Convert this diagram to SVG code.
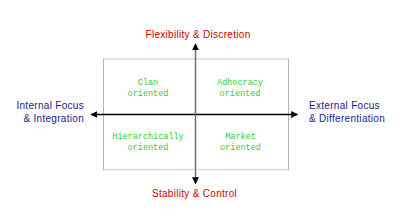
<svg xmlns="http://www.w3.org/2000/svg" width="400" height="222" viewBox="0 0 400 222">
<style>
.ax{font-family:"Liberation Sans",Arial,sans-serif;font-size:10px;letter-spacing:0.3px}
.red{fill:#cc0000}
.blue{fill:#1a1a8c}
.q{font-family:"Liberation Mono","Courier New",monospace;font-size:8.5px;fill:#33cc33;text-anchor:middle}
</style>
<defs>
<marker id="ah" viewBox="0 0 10 10" refX="9" refY="5" markerWidth="7" markerHeight="7" markerUnits="userSpaceOnUse" orient="auto">
<path d="M0,0 L10,5 L0,10 z" fill="#000"/>
</marker>
</defs>
<rect width="400" height="222" fill="#fff"/>
<g id="frame">
<rect x="103.5" y="59" width="185" height="110.5" fill="#fff" stroke="none"/>
<line x1="103" y1="59" x2="289" y2="59" stroke="#dcdcdc" stroke-width="1.5"/>
<line x1="103" y1="169.5" x2="289" y2="169.5" stroke="#dcdcdc" stroke-width="1.5"/>
<line x1="103.5" y1="59" x2="103.5" y2="170" stroke="#b8b0b0" stroke-width="1"/>
<line x1="288.5" y1="59" x2="288.5" y2="170" stroke="#b8b0b0" stroke-width="1"/>
</g>
<g id="connectors">
<line x1="196" y1="114.5" x2="91" y2="114.5" stroke="#000" stroke-width="1.3" marker-end="url(#ah)"/>
<line x1="196" y1="114.5" x2="297.5" y2="114.5" stroke="#000" stroke-width="1.3" marker-end="url(#ah)"/>
<line x1="195.5" y1="114" x2="195.5" y2="44" stroke="#707070" stroke-width="1.5" marker-end="url(#ah)"/>
<line x1="195.5" y1="114" x2="195.5" y2="183.5" stroke="#707070" stroke-width="1.5" marker-end="url(#ah)"/>
</g>
<g id="top-label"><text class="ax red" x="198" y="38.3" text-anchor="middle">Flexibility &amp; Discretion</text></g>
<g id="bottom-label"><text class="ax red" x="194.5" y="196.5" text-anchor="middle">Stability &amp; Control</text></g>
<g id="left-label"><text class="ax blue" text-anchor="end"><tspan x="84" y="109">Internal Focus</tspan><tspan x="84" y="121.5">&amp; Integration</tspan></text></g>
<g id="right-label"><text class="ax blue"><tspan x="309" y="109">External Focus</tspan><tspan x="309" y="121.5">&amp; Differentiation</tspan></text></g>
<g id="clan"><text class="q"><tspan x="148" y="85">Clan</tspan><tspan x="148" y="96">oriented</tspan></text></g>
<g id="adhocracy"><text class="q"><tspan x="240" y="85">Adhocracy</tspan><tspan x="240" y="96">oriented</tspan></text></g>
<g id="hierarchy"><text class="q"><tspan x="148" y="139">Hierarchically</tspan><tspan x="148" y="149.5">oriented</tspan></text></g>
<g id="market"><text class="q"><tspan x="240.5" y="139">Market</tspan><tspan x="240.5" y="149.5">oriented</tspan></text></g>
</svg>
